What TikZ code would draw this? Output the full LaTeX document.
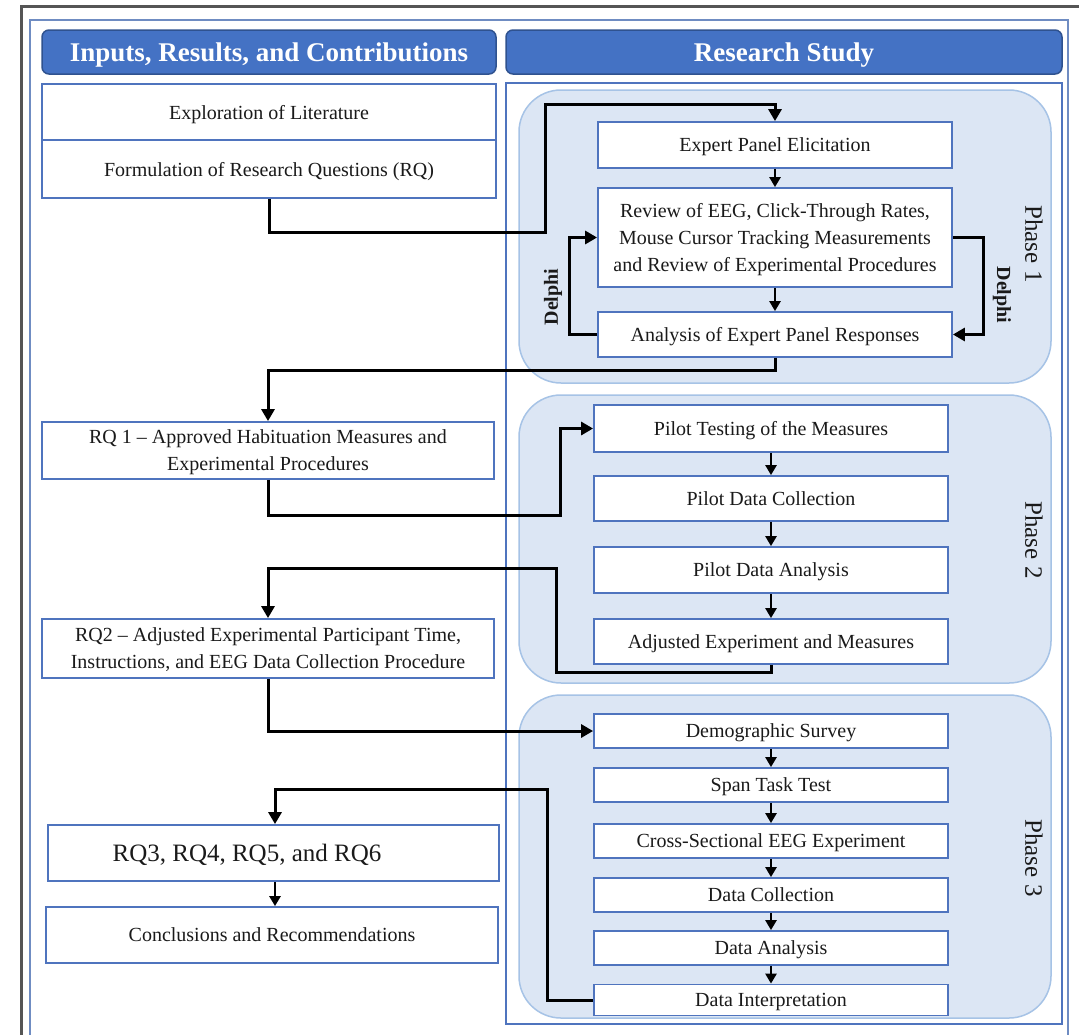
\documentclass[tikz,border=0pt]{standalone}
\usepackage{fontspec}
\setmainfont{Liberation Serif}
\usetikzlibrary{arrows.meta}
\definecolor{hdrfill}{HTML}{4472C4}
\definecolor{hdrline}{HTML}{2F528F}
\definecolor{boxline}{HTML}{4F74BE}
\definecolor{panelfill}{HTML}{DCE6F4}
\definecolor{panelline}{HTML}{A6C3E6}
\definecolor{frameblue}{HTML}{6F8CC2}
\definecolor{framegray}{HTML}{555555}
\definecolor{txt}{HTML}{1A1A1A}
\tikzset{
  hdr/.style={draw=hdrline, line width=1.5pt, fill=hdrfill, rounded corners=7pt,
    text=white, inner sep=0pt, text depth=0pt, font=\fontsize{27}{30}\selectfont\bfseries},
  panel/.style={draw=panelline, line width=1.5pt, fill=panelfill, rounded corners=42pt},
  stepbox/.style={draw=boxline, line width=1.8pt, fill=white, inner sep=0pt,
    text depth=-3pt, align=center, text=txt, font=\fontsize{20}{27}\selectfont},
  phaselbl/.style={text=txt, inner sep=0pt, font=\fontsize{25}{28}\selectfont},
  delphilbl/.style={text=txt, inner sep=0pt, font=\fontsize{20}{24}\selectfont\bfseries},
  conn/.style={line width=3pt, -{Triangle[length=12pt,width=13pt]}},
  shortarr/.style={line width=2.5pt, -{Triangle[length=10pt,width=11pt]}},
}
\begin{document}
\begin{tikzpicture}[x=1pt,y=-1pt]
\useasboundingbox (0,0) rectangle (1079,1034);
\clip (0,0) rectangle (1079,1034);
\fill[white] (0,0) rectangle (1079,1034);

% outer frames
\draw[framegray, line width=3pt] (21,6) rectangle (1090,1050);
\draw[frameblue, line width=1.6pt] (30,20) rectangle (1068,1050);

% column headers
\node[hdr, minimum width=454pt, minimum height=44pt] (hleft) at (269,52) {Inputs, Results, and Contributions};
\node[hdr, minimum width=556pt, minimum height=44pt] (hright) at (784,52) {Research Study};

% research study column
\draw[boxline, line width=1.8pt] (506,83) rectangle (1062,1024);

% phase panels
\draw[panel] (519,90) rectangle (1051,383);
\draw[panel] (519,395) rectangle (1051,683);
\draw[panel] (519,695) rectangle (1051,1018);

\node[phaselbl, rotate=-90] (ph1) at (1034,244) {Phase 1};
\node[phaselbl, rotate=-90] (ph2) at (1034,540) {Phase 2};
\node[phaselbl, rotate=-90] (ph3) at (1034,858) {Phase 3};

% phase 1 steps
\node[stepbox, minimum width=354pt, minimum height=46pt] (expert) at (775,145) {Expert Panel Elicitation};
\node[stepbox, minimum width=354pt, minimum height=99pt] (review) at (775,237.5)
  {Review of EEG, Click-Through Rates,\\Mouse Cursor Tracking Measurements\\and Review of Experimental Procedures};
\node[stepbox, minimum width=354pt, minimum height=45pt] (analysis) at (775,334.5) {Analysis of Expert Panel Responses};

% phase 2 steps
\node[stepbox, minimum width=354pt, minimum height=47pt] (pilot) at (771,428.5) {Pilot Testing of the Measures};
\node[stepbox, minimum width=354pt, minimum height=45pt] (pcoll) at (771,498.5) {Pilot Data Collection};
\node[stepbox, minimum width=354pt, minimum height=46pt] (panal) at (771,570) {Pilot Data Analysis};
\node[stepbox, minimum width=354pt, minimum height=45pt] (adjust) at (771,641.5) {Adjusted Experiment and Measures};

% phase 3 steps
\node[stepbox, minimum width=354pt, minimum height=34pt] (demo) at (771,731) {Demographic Survey};
\node[stepbox, minimum width=354pt, minimum height=34pt] (span) at (771,785) {Span Task Test};
\node[stepbox, minimum width=354pt, minimum height=34pt] (cross) at (771,841) {Cross-Sectional EEG Experiment};
\node[stepbox, minimum width=354pt, minimum height=34pt] (dcoll) at (771,895) {Data Collection};
\node[stepbox, minimum width=354pt, minimum height=34pt] (danal) at (771,948) {Data Analysis};
\node[stepbox, minimum width=354pt, minimum height=31pt] (dinterp) at (771,1000) {Data Interpretation};

% left column
\node[stepbox, minimum width=454pt, minimum height=56pt] (explo) at (269,112) {Exploration of Literature};
\node[stepbox, minimum width=454pt, minimum height=58pt] (formul) at (269,169) {Formulation of Research Questions (RQ)};
\node[stepbox, minimum width=452pt, minimum height=57pt] (rq1) at (268,450.5)
  {RQ 1 -- Approved Habituation Measures and\\Experimental Procedures};
\node[stepbox, minimum width=452pt, minimum height=59pt] (rq2) at (268,648.5)
  {RQ2 -- Adjusted Experimental Participant Time,\\Instructions, and EEG Data Collection Procedure};
\node[stepbox, minimum width=451pt, minimum height=56pt] (rq3) at (273.5,853) {};
\node[text=txt, inner sep=0pt, text depth=-3pt, font=\fontsize{25}{28}\selectfont] (rq3t) at (247,853) {RQ3, RQ4, RQ5, and RQ6};
\node[stepbox, minimum width=452pt, minimum height=56pt] (concl) at (272,935) {Conclusions and Recommendations};

% short arrows between steps
\draw[shortarr] (expert) -- (review);
\draw[shortarr] (review) -- (analysis);
\draw[shortarr] (pilot) -- (pcoll);
\draw[shortarr] (pcoll) -- (panal);
\draw[shortarr] (panal) -- (adjust);
\draw[shortarr] (demo) -- (span);
\draw[shortarr] (span) -- (cross);
\draw[shortarr] (cross) -- (dcoll);
\draw[shortarr] (dcoll) -- (danal);
\draw[shortarr] (danal) -- (dinterp);
\draw[shortarr] (rq3.south -| 275,0) -- (concl.north -| 275,0);

% Delphi loops
\draw[conn] (analysis.west) -- (569,334.5) |- (review.west);
\draw[conn] (review.east) -- (983,237.5) |- (analysis.east);
\node[delphilbl, rotate=90] (dl) at (553,297) {Delphi};
\node[delphilbl, rotate=-90] (dr) at (1002,295) {Delphi};

% connectors between the columns
\draw[conn] (formul.south) -- (269,232) -| (545,104) -| (expert.north);
\draw[conn] (analysis.south) -- (775,370) -| (rq1.north);
\draw[conn] (rq1.south) |- (560,515) |- (pilot.west);
\draw[conn] (adjust.south) -- (771,672) -| (556,568) -| (rq2.north);
\draw[conn] (rq2.south) |- (demo.west);
\draw[conn] (dinterp.west) -| (547,789) -| (rq3.north -| 275,0);
\end{tikzpicture}
\end{document}
